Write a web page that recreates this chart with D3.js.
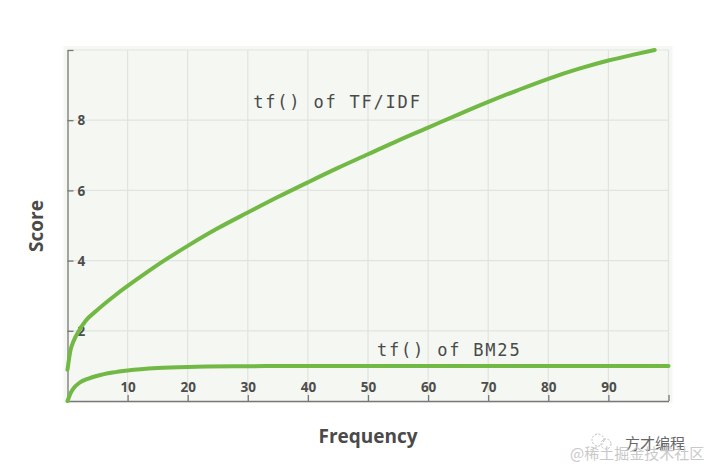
<!DOCTYPE html>
<html>
<head>
<meta charset="utf-8">
<script src="https://cdn.jsdelivr.net/npm/d3@7"></script>
<style>
  body { margin: 0; background: #fff; }
  svg { display: block; }
</style>
</head>
<body>
<script>
// data
const tfidfFreq  = [0, 0.5, 1, 2, 3, 5, 8, 12, 16, 20, 25, 30, 35, 40, 45, 50, 55, 60, 65, 70, 75, 80, 85, 90, 94, 97.7]
const tfidfScore = [0.89, 1.45, 1.7, 2.03, 2.28, 2.6, 3.02, 3.52, 3.99, 4.42, 4.92, 5.37, 5.81, 6.23, 6.64, 7.03, 7.42, 7.79, 8.16, 8.52, 8.86, 9.18, 9.46, 9.7, 9.86, 10.0]
const bm25Freq   = [0, 0.5, 1, 2, 3.5, 5, 7.5, 10, 15, 20, 30, 40, 60, 100]
const bm25Score  = [0, 0.22, 0.36, 0.52, 0.64, 0.72, 0.81, 0.87, 0.94, 0.97, 0.99, 1.0, 1.0, 1.0]
const xTicks = [10, 20, 30, 40, 50, 60, 70, 80, 90]
const yTicks = [2, 4, 6, 8]
const labels = [
  {text: "tf() of TF/IDF", freq: 30.9, score: 8.34},
  {text: "tf() of BM25", freq: 51.5, score: 1.29}
]

const W = 720, H = 476
const margin = {top: 50, right: 51.5, bottom: 75, left: 67.5}
const width = W - margin.left - margin.right
const height = H - margin.top - margin.bottom

const svg = d3.select("body").append("svg")
  .attr("width", W)
  .attr("height", H)

const x = d3.scaleLinear().domain([0, 100]).range([margin.left, margin.left + width])
const y = d3.scaleLinear().domain([0, 10]).range([margin.top + height, margin.top])

// plot background
svg.append("rect")
  .attr("x", x(0) - 4).attr("y", y(10) - 4)
  .attr("width", x(100) - x(0) + 8)
  .attr("height", y(0) - y(10) + 6)
  .attr("fill", "#f5f8f2")

// grid
svg.append("g")
  .selectAll("line")
  .data(xTicks.concat([100]))
  .join("line")
  .attr("x1", d => x(d)).attr("x2", d => x(d))
  .attr("y1", y(0)).attr("y2", y(10))
  .attr("stroke", "#e1e3df").attr("stroke-width", 1.2)

svg.append("g")
  .selectAll("line")
  .data(yTicks.concat([10]))
  .join("line")
  .attr("x1", x(0)).attr("x2", x(100))
  .attr("y1", d => y(d)).attr("y2", d => y(d))
  .attr("stroke", "#e1e3df").attr("stroke-width", 1.2)

// axes with inward ticks and labels inside the plot
const xAxis = svg.append("g")
  .attr("transform", "translate(0," + y(0) + ")")
  .call(d3.axisBottom(x).tickValues(xTicks.concat([100])).tickSizeInner(-6).tickSizeOuter(0).tickFormat(d => d === 100 ? "" : d))
xAxis.select(".domain").attr("stroke", "#777").attr("stroke-width", 1.3)
xAxis.selectAll(".tick line").attr("stroke", "#777").attr("stroke-width", 1.3)
xAxis.selectAll(".tick text")
  .attr("y", -9).attr("dy", 0)
  .attr("font-family", "Open Sans").attr("font-weight", "bold").attr("font-size", 13.5)
  .attr("fill", "#4d4d4d")

const yAxis = svg.append("g")
  .attr("transform", "translate(" + x(0) + ",0)")
  .call(d3.axisLeft(y).tickValues(yTicks.concat([10])).tickSizeInner(-6).tickSizeOuter(0).tickFormat(d => d === 10 ? "" : d))
yAxis.select(".domain").attr("stroke", "#777").attr("stroke-width", 1.3)
yAxis.selectAll(".tick line").attr("stroke", "#777").attr("stroke-width", 1.3)
yAxis.selectAll(".tick text")
  .attr("x", 10).attr("text-anchor", "start").attr("dy", "0.35em")
  .attr("font-family", "Open Sans").attr("font-weight", "bold").attr("font-size", 13.5)
  .attr("fill", "#4d4d4d")

// curves
const line = d3.line()
  .x(d => x(d[0]))
  .y(d => y(d[1]))
  .curve(d3.curveMonotoneX)

svg.append("path")
  .datum(d3.zip(tfidfFreq, tfidfScore))
  .attr("d", line)
  .attr("fill", "none").attr("stroke", "#71b844").attr("stroke-width", 4).attr("stroke-linecap", "round")

svg.append("path")
  .datum(d3.zip(bm25Freq, bm25Score))
  .attr("d", line)
  .attr("fill", "none").attr("stroke", "#71b844").attr("stroke-width", 4).attr("stroke-linecap", "round")

// curve labels
svg.append("g")
  .selectAll("text")
  .data(labels)
  .join("text")
  .attr("x", d => x(d.freq))
  .attr("y", d => y(d.score))
  .attr("font-family", "DejaVu Sans Mono").attr("font-size", 17)
  .attr("letter-spacing", "1.8px")
  .attr("fill", "#4a4a4a")
  .text(d => d.text)

// axis titles
svg.append("text")
  .attr("x", (x(0) + x(100)) / 2).attr("y", 443)
  .attr("text-anchor", "middle")
  .attr("font-family", "Open Sans").attr("font-weight", "bold").attr("font-size", 19)
  .attr("fill", "#4a4a4a")
  .text("Frequency")

svg.append("text")
  .attr("transform", "translate(43,226) rotate(-90)")
  .attr("text-anchor", "middle")
  .attr("font-family", "Open Sans").attr("font-weight", "bold").attr("font-size", 19)
  .attr("fill", "#4a4a4a")
  .text("Score")

// watermark (two overlapping lines, as in the source image)
const wm = svg.append("g")
wm.append("circle").attr("cx", 598).attr("cy", 440).attr("r", 6)
  .attr("fill", "none").attr("stroke", "#bbb").attr("stroke-width", 1).attr("stroke-dasharray", "2,1.5")
wm.append("circle").attr("cx", 606).attr("cy", 444).attr("r", 5)
  .attr("fill", "none").attr("stroke", "#bbb").attr("stroke-width", 1).attr("stroke-dasharray", "2,1.5")
wm.append("text")
  .attr("x", 625).attr("y", 449)
  .attr("font-family", "Noto Sans CJK SC").attr("font-size", 15)
  .attr("fill", "#666")
  .text("方才编程")
wm.append("text")
  .attr("x", 570).attr("y", 459)
  .attr("font-family", "Noto Sans CJK SC").attr("font-size", 15)
  .attr("fill", "#c4c4c4").attr("opacity", 0.9)
  .text("@稀土掘金技术社区")
</script>
</body>
</html>
